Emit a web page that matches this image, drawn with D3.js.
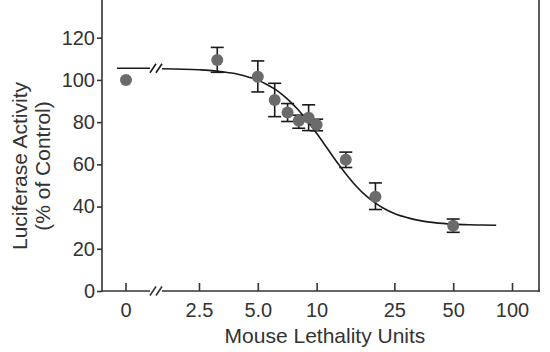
<!DOCTYPE html>
<html>
<head>
<meta charset="utf-8">
<script src="https://cdn.jsdelivr.net/npm/d3@7"></script>
<style>
  html, body { margin: 0; padding: 0; background: #fff; }
  svg { display: block; }
  text { font-family: "Liberation Sans", Arial, Helvetica, sans-serif; fill: #333; }
</style>
</head>
<body>
<svg id="chart" width="550" height="352"></svg>
<script>
// ---- data ----
const xTickValues = [2.5, 5, 10, 25, 50, 100];
const xTickLabels = ["2.5", "5.0", "10", "25", "50", "100"];
const yTickValues = [0, 20, 40, 60, 80, 100, 120];

// control point (plotted at "0" left of the axis break)
const controlValue = 100;

// dose points: mouse lethality units, mean %, lower, upper error
const doseX    = [3.1, 5.0, 6.1, 7.1, 8.1, 9.1, 10.0, 14.1, 20.0, 50.0];
const doseMean = [109.4, 101.5, 90.5, 84.6, 80.7, 82.1, 78.8, 62.2, 44.7, 30.9];
const doseLow  = [103.6, 94.3, 82.6, 80.3, 77.1, 76.0, 75.9, 58.5, 38.6, 27.8];
const doseHigh = [115.4, 109.0, 98.4, 88.8, 83.3, 88.2, 81.4, 65.8, 51.2, 34.1];

// fitted curve
const curveX = [1.6, 2.5, 3, 3.5, 4, 4.5, 5, 5.5, 6, 6.5, 7, 7.5, 8, 9, 10, 11, 12, 13, 14, 15, 16, 18, 20, 22, 25, 30, 35, 40, 50, 60, 70, 83];
const curveY = [105.3, 104.8, 104.3, 103.5, 102.6, 101.3, 99.9, 98.1, 96.1, 93.9, 91.4, 88.8, 86.1, 80.4, 74.7, 69.3, 64.3, 59.8, 55.9, 52.5, 49.5, 44.9, 41.6, 39.2, 36.7, 34.4, 33.1, 32.4, 31.7, 31.4, 31.25, 31.15];
const curveTop = 105.5; // plateau level drawn left of the break

// ---- layout ----
const svg = d3.select("#chart");
const axisColor = "#333";
const axisY0 = 291, plotTop = 0;
const xLeft = 102, xRight = 539;
const zeroX = 126;
const breakL = 150, breakR = 162;

const y = d3.scaleLinear().domain([0, 120]).range([291, 37.7]);
const x = d3.scaleLog().domain([2.5, 100]).range([199, 512]);

// ---- axes ----
const g = svg.append("g");

// Y axis
const yAxis = d3.axisLeft(y).tickValues(yTickValues).tickSize(5).tickPadding(2).tickFormat(d3.format("d"));
const yg = g.append("g").attr("transform", `translate(${xLeft},0)`).call(yAxis);
yg.select(".domain").remove();
yg.selectAll(".tick line").attr("stroke", axisColor).attr("stroke-width", 1.6);
yg.selectAll(".tick text").attr("font-size", 20).attr("fill", axisColor)
  .attr("font-family", '"Liberation Sans", Arial, sans-serif');
g.append("line").attr("x1", xLeft).attr("x2", xLeft).attr("y1", plotTop).attr("y2", axisY0 + 0.8)
  .attr("stroke", axisColor).attr("stroke-width", 1.6);
// right frame
g.append("line").attr("x1", xRight).attr("x2", xRight).attr("y1", plotTop).attr("y2", axisY0 + 0.8)
  .attr("stroke", axisColor).attr("stroke-width", 1.6);

// X axis (log part)
const xAxis = d3.axisBottom(x).tickValues(xTickValues).tickSize(-8).tickPadding(0)
  .tickFormat((d, i) => xTickLabels[i]);
const xg = g.append("g").attr("transform", `translate(0,${axisY0})`).call(xAxis);
xg.select(".domain").remove();
xg.selectAll(".tick line").attr("stroke", axisColor).attr("stroke-width", 1.6);
xg.selectAll(".tick text").attr("font-size", 20).attr("fill", axisColor)
  .attr("font-family", '"Liberation Sans", Arial, sans-serif')
  .attr("y", 26).attr("dy", 0);

// "0" tick
g.append("line").attr("x1", zeroX).attr("x2", zeroX).attr("y1", axisY0).attr("y2", axisY0 - 8)
  .attr("stroke", axisColor).attr("stroke-width", 1.6);
g.append("text").attr("x", zeroX).attr("y", axisY0 + 26).attr("text-anchor", "middle")
  .attr("font-size", 20).text("0");

// x axis line with break
g.append("line").attr("x1", xLeft).attr("x2", breakL).attr("y1", axisY0).attr("y2", axisY0)
  .attr("stroke", axisColor).attr("stroke-width", 1.6);
g.append("line").attr("x1", breakR).attr("x2", xRight + 0.8).attr("y1", axisY0).attr("y2", axisY0)
  .attr("stroke", axisColor).attr("stroke-width", 1.6);

function breakMarks(cy, color) {
  [150, 156].forEach(bx => {
    g.append("line").attr("x1", bx).attr("y1", cy + 4.5).attr("x2", bx + 6).attr("y2", cy - 4.5)
      .attr("stroke", color).attr("stroke-width", 1.6);
  });
}
breakMarks(axisY0, axisColor);

// ---- fitted curve ----
const curveColor = "#1a1a1a";
g.append("line").attr("x1", 117).attr("x2", breakL).attr("y1", y(curveTop)).attr("y2", y(curveTop))
  .attr("stroke", curveColor).attr("stroke-width", 1.6);
breakMarks(y(curveTop), curveColor);
const curvePts = curveX.map((cx, i) => [cx, curveY[i]]);
const line = d3.line().x(d => Math.max(breakR, x(d[0]))).y(d => y(d[1])).curve(d3.curveMonotoneX);
g.append("path").attr("d", line(curvePts)).attr("fill", "none")
  .attr("stroke", curveColor).attr("stroke-width", 1.6);

// ---- error bars ----
const capHalf = 6.5;
const eb = g.append("g").attr("stroke", curveColor).attr("stroke-width", 1.6);
doseX.forEach((dx, i) => {
  const px = x(dx);
  eb.append("line").attr("x1", px).attr("x2", px).attr("y1", y(doseLow[i])).attr("y2", y(doseHigh[i]));
  eb.append("line").attr("x1", px - capHalf).attr("x2", px + capHalf).attr("y1", y(doseLow[i])).attr("y2", y(doseLow[i]));
  eb.append("line").attr("x1", px - capHalf).attr("x2", px + capHalf).attr("y1", y(doseHigh[i])).attr("y2", y(doseHigh[i]));
});

// ---- points ----
const ptFill = "#6b6b6b";
g.append("circle").attr("cx", zeroX).attr("cy", y(controlValue)).attr("r", 6).attr("fill", ptFill);
g.selectAll("circle.dose").data(doseX).enter().append("circle").attr("class", "dose")
  .attr("cx", d => x(d)).attr("cy", (d, i) => y(doseMean[i])).attr("r", 6).attr("fill", ptFill);

// ---- titles ----
g.append("text").attr("x", 325).attr("y", 343).attr("text-anchor", "middle")
  .attr("font-size", 21).text("Mouse Lethality Units");
const yt = g.append("text").attr("transform", "translate(27,166) rotate(-90)")
  .attr("text-anchor", "middle").attr("font-size", 21);
yt.append("tspan").attr("x", 0).attr("y", 0).text("Luciferase Activity");
yt.append("tspan").attr("x", 0).attr("y", 23).text("(% of Control)");
</script>
</body>
</html>
